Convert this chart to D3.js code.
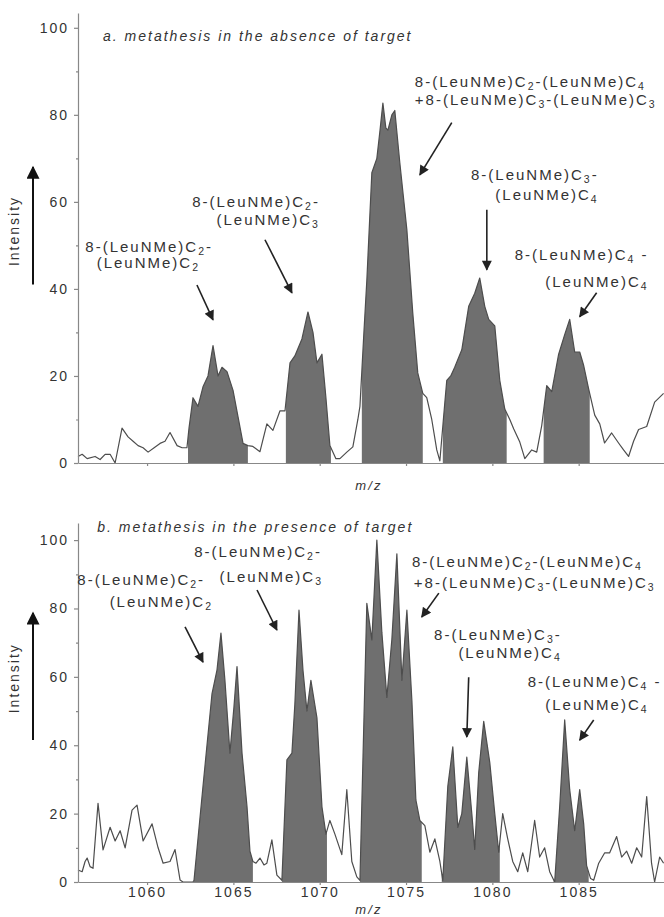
<!DOCTYPE html>
<html lang="en">
<head>
<meta charset="UTF-8">
<title>Metathesis MS</title>
<script src="https://d3js.org/d3.v7.min.js"></script>
<style>
    body { margin: 0; padding: 0; background: #fff; }
    svg text { font-family: "Liberation Sans", Arial, sans-serif; fill: #333; }
</style>
</head>
<body>
<div id="main"></div>
<script>
    // panel a: metathesis without target (m/z, intensity)
    var mzA = [
        1056.00, 1056.24, 1056.53, 1056.99, 1057.28, 1057.57, 1057.86, 1058.15, 1058.55, 1058.90,
        1059.19, 1059.48, 1059.77, 1060.06, 1060.41, 1060.75, 1061.04, 1061.33, 1061.74, 1062.03,
        1062.31, 1062.43, 1062.66, 1062.95, 1063.24, 1063.53, 1063.82, 1064.11, 1064.34, 1064.63,
        1064.98, 1065.27, 1065.56, 1065.84, 1066.13, 1066.54, 1066.94, 1067.29, 1067.70, 1067.99,
        1068.28, 1068.56, 1068.97, 1069.32, 1069.61, 1069.84, 1070.13, 1070.36, 1070.59, 1070.94,
        1071.17, 1071.57, 1071.92, 1072.21, 1072.33, 1072.56, 1072.73, 1073.02, 1073.31, 1073.48,
        1073.66, 1073.83, 1073.95, 1074.18, 1074.35, 1074.64, 1075.05, 1075.39, 1075.68, 1075.97,
        1076.20, 1076.49, 1076.78, 1076.96, 1077.25, 1077.36, 1077.59, 1077.82, 1078.23, 1078.63,
        1078.98, 1079.27, 1079.56, 1079.79, 1080.14, 1080.43, 1080.72, 1081.01, 1081.24, 1081.59,
        1081.88, 1082.28, 1082.57, 1082.86, 1083.15, 1083.44, 1083.84, 1084.19, 1084.48, 1084.77,
        1085.06, 1085.29, 1085.58, 1085.93, 1086.22, 1086.50, 1086.91, 1087.31, 1087.60, 1087.89,
        1088.18, 1088.47, 1088.94, 1089.40, 1089.92
    ];
    var intA = [
        1.5, 2, 1, 1.5, 0.8, 2, 2, 0, 8, 6,
        5, 4, 3.5, 2.5, 3.5, 4.5, 5, 7, 4, 3.5,
        3.5, 8, 15, 13, 17.5, 20, 27, 20, 22, 21,
        16.7, 10.6, 4.5, 4, 3.8, 2.6, 9, 7.5, 12, 12,
        23, 24.6, 28.5, 34.7, 30, 23, 25, 15, 4, 1,
        1, 2.5, 3.7, 10, 13, 30, 42, 66.7, 70, 76,
        82.7, 77, 76.5, 80, 81, 69, 53.5, 34.5, 20.7, 16,
        15, 10, 3, 0.5, 14, 19, 20, 22, 26, 36,
        39, 42.5, 36, 33, 31.5, 19, 12.4, 10, 7.8, 4.8,
        1, 3, 2.5, 8.6, 17.8, 16.4, 25, 29.5, 33, 25.5,
        25.5, 22.4, 17, 11, 9, 4.6, 6.9, 4.6, 3, 1.5,
        5, 7.7, 8.4, 14, 16
    ];
    var shadeA = [[1062.37, 1065.84], [1068.04, 1070.65], [1072.44, 1075.97], [1077.13, 1080.83], [1082.97, 1085.64]];

    // panel b: metathesis with target
    var mzB = [
        1056.00, 1056.24, 1056.41, 1056.53, 1056.70, 1056.87, 1057.16, 1057.45, 1057.86, 1058.15,
        1058.44, 1058.73, 1059.13, 1059.42, 1059.77, 1060.29, 1060.64, 1060.93, 1061.33, 1061.62,
        1061.91, 1062.08, 1062.66, 1062.72, 1063.24, 1063.76, 1064.05, 1064.28, 1064.51, 1064.80,
        1065.03, 1065.21, 1065.50, 1065.79, 1065.96, 1066.13, 1066.31, 1066.54, 1066.77, 1066.94,
        1067.23, 1067.52, 1067.81, 1068.10, 1068.39, 1068.56, 1068.80, 1069.03, 1069.26, 1069.49,
        1069.84, 1070.13, 1070.36, 1070.59, 1070.88, 1071.28, 1071.57, 1071.86, 1072.15, 1072.33,
        1072.73, 1073.02, 1073.31, 1073.60, 1073.89, 1074.18, 1074.47, 1074.76, 1075.05, 1075.34,
        1075.57, 1075.80, 1076.09, 1076.38, 1076.67, 1076.96, 1077.13, 1077.42, 1077.71, 1078.00,
        1078.23, 1078.52, 1078.81, 1078.98, 1079.21, 1079.50, 1079.85, 1080.14, 1080.37, 1080.60,
        1080.89, 1081.18, 1081.47, 1081.76, 1082.05, 1082.45, 1082.74, 1083.03, 1083.32, 1083.61,
        1083.90, 1084.19, 1084.48, 1084.77, 1085.06, 1085.29, 1085.46, 1085.69, 1085.87, 1086.16,
        1086.50, 1086.79, 1087.20, 1087.49, 1087.78, 1088.07, 1088.36, 1088.65, 1088.94, 1089.22,
        1089.40, 1089.69, 1089.92
    ];
    var intB = [
        3.5, 3, 6, 7, 4.5, 4, 23, 9.4, 16, 12,
        15, 10, 21, 22.5, 12, 17, 10, 5.5, 6, 9.5,
        0.6, 0, 0, 0.5, 28, 55, 62, 72.8, 59, 37.7,
        51, 63, 37.7, 22, 9, 6, 5.5, 7, 5, 5.5,
        12.3, 2, 0.5, 35.7, 37.7, 52, 79.5, 62, 50, 59,
        48, 22, 14, 18, 14, 8, 27, 6, 1.5, 0.5,
        81.5, 70.8, 100, 73, 54, 71, 96, 59, 79.5, 53,
        24, 18, 16.5, 8.7, 12.6, 6, 0.5, 28, 39.5, 16,
        20, 36.5, 20, 9.5, 32, 47, 35, 20, 8.7, 20,
        12.6, 6, 3, 8.5, 3, 18, 7.3, 10, 3, 0,
        22, 47.4, 27, 15, 27, 17, 4.8, 1, 0.5, 5.5,
        8.5, 8.5, 13.3, 7.3, 9, 5.5, 10, 7.3, 25, 5.5,
        0, 7.3, 5.5
    ];
    var shadeB = [[1062.72, 1066.13], [1067.81, 1070.42], [1072.33, 1075.91], [1077.07, 1080.43], [1083.55, 1085.58]];

    var yTicks = [0, 20, 40, 60, 80, 100];
    var yMinor = [10, 30, 50, 70, 90];
    var xTicks = [1060, 1065, 1070, 1075, 1080, 1085];

    var titleA = "a. metathesis in the absence of target";
    var titleB = "b. metathesis in the presence of target";

    // peak labels, "_n" = subscript; anchors in data units (m/z, intensity)
    var notesA = [
        { lines: ["8-(LeuNMe)C_2-", "(LeuNMe)C_2"], anchor: "end", at: [[1063.82, 48.5], [1063.07, 44.8]], arrow: [[1062.89, 40.9], [1063.82, 32.9]] },
        { lines: ["8-(LeuNMe)C_2-", "(LeuNMe)C_3"], anchor: "end", at: [[1070.01, 58.9], [1070.01, 54.7]], arrow: [[1066.83, 51.3], [1068.39, 39.1]] },
        { lines: ["8-(LeuNMe)C_2-(LeuNMe)C_4", "+8-(LeuNMe)C_3-(LeuNMe)C_3"], anchor: "start", at: [[1075.51, 86.4], [1075.51, 82.3]], arrow: [[1077.65, 78.2], [1075.80, 66.2]] },
        { lines: ["8-(LeuNMe)C_3-", "(LeuNMe)C_4"], anchor: "end", at: [[1086.16, 65.1], [1086.16, 60.5]], arrow: [[1079.68, 58.2], [1079.68, 44.4]] },
        { lines: ["8-(LeuNMe)C_4 -", "(LeuNMe)C_4"], anchor: "end", at: [[1089.05, 46.7], [1089.05, 40.5]], arrow: [[1086.04, 39.1], [1085.06, 33.6]] }
    ];
    var notesB = [
        { lines: ["8-(LeuNMe)C_2-", "(LeuNMe)C_2"], anchor: "end", at: [[1063.36, 86.8], [1063.82, 80.4]], arrow: [[1062.20, 74.6], [1063.24, 64.3]] },
        { lines: ["8-(LeuNMe)C_2-", "(LeuNMe)C_3"], anchor: "end", at: [[1070.13, 95.0], [1070.19, 87.7]], arrow: [[1066.37, 85.4], [1067.52, 73.7]] },
        { lines: ["8-(LeuNMe)C_2-(LeuNMe)C_4", "+8-(LeuNMe)C_3-(LeuNMe)C_3"], anchor: "start", at: [[1075.34, 92.1], [1075.45, 86.0]], arrow: [[1076.90, 84.5], [1075.91, 77.5]] },
        { lines: ["8-(LeuNMe)C_3-", "(LeuNMe)C_4"], anchor: "end", at: [[1084.02, 70.8], [1084.02, 65.5]], arrow: [[1078.63, 59.9], [1078.52, 42.4]] },
        { lines: ["8-(LeuNMe)C_4 -", "(LeuNMe)C_4"], anchor: "end", at: [[1089.80, 57.0], [1089.05, 50.3]], arrow: [[1085.87, 47.4], [1085.06, 41.5]] }
    ];

    var width = 664, height = 917;

    var svg = d3.select("#main").append("svg")
        .attr("width", width)
        .attr("height", height);

    svg.append("rect").attr("width", width).attr("height", height).attr("fill", "#fff");

    var defs = svg.append("defs");
    defs.append("marker")
        .attr("id", "head")
        .attr("viewBox", "0 0 10 10")
        .attr("refX", 9).attr("refY", 5)
        .attr("markerUnits", "userSpaceOnUse")
        .attr("markerWidth", 11).attr("markerHeight", 10)
        .attr("orient", "auto")
        .append("path").attr("d", "M0,0 L10,5 L0,10 Z").attr("fill", "#222");
    defs.append("marker")
        .attr("id", "bighead")
        .attr("viewBox", "0 0 10 10")
        .attr("refX", 9).attr("refY", 5)
        .attr("markerUnits", "userSpaceOnUse")
        .attr("markerWidth", 14).attr("markerHeight", 13)
        .attr("orient", "auto")
        .append("path").attr("d", "M0,0 L10,5 L0,10 Z").attr("fill", "#111");

    var x = d3.scaleLinear().domain([1056, 1090]).range([78, 665]);

    // write a label with _n subscripts as tspans
    function richText(t, str) {
        var low = false;
        str.split(/_(\d)/).forEach(function(part, i) {
            if (part === "") return;
            if (i % 2 == 1) {
                t.append("tspan").attr("dy", 3).attr("font-size", 10.5).text(part);
                low = true;
            } else {
                t.append("tspan").attr("dy", low ? -3 : 0).text(part);
                low = false;
            }
        });
    }

    function drawPanel(p) {
        var y = d3.scaleLinear().domain([0, p.yMax]).range([p.y0, p.yTop]);
        var g = svg.append("g");
        var pts = p.mz.map(function(m, i) { return [m, p.ints[i]]; });

        var clip = defs.append("clipPath").attr("id", "clip" + p.id);
        clip.selectAll("rect")
            .data(p.shade)
            .enter()
            .append("rect")
            .attr("x", function(d) { return x(d[0]); })
            .attr("width", function(d) { return x(d[1]) - x(d[0]); })
            .attr("y", p.yTop)
            .attr("height", p.y0 - p.yTop);

        g.append("path")
            .datum(pts)
            .attr("clip-path", "url(#clip" + p.id + ")")
            .attr("d", d3.area().x(function(d) { return x(d[0]); }).y0(y(0)).y1(function(d) { return y(d[1]); }))
            .attr("fill", "#6f6f6f");

        g.append("path")
            .datum(pts)
            .attr("d", d3.line().x(function(d) { return x(d[0]); }).y(function(d) { return y(d[1]); }))
            .attr("fill", "none")
            .attr("stroke", "#4d4d4d")
            .attr("stroke-width", 1.2)
            .attr("stroke-linejoin", "round");

        // axes
        var ya = g.append("g")
            .attr("transform", "translate(" + x(1056) + ",0)")
            .call(d3.axisLeft(y).tickValues(yTicks).tickSize(4).tickSizeOuter(0).tickPadding(5));
        ya.append("g").call(d3.axisLeft(y).tickValues(yMinor).tickSize(2).tickFormat(""))
            .select(".domain").remove();

        var xa = g.append("g")
            .attr("transform", "translate(0," + p.y0 + ")")
            .call(d3.axisBottom(x).tickValues(xTicks).tickSize(3).tickSizeOuter(0).tickPadding(2)
                .tickFormat(p.xLabels ? d3.format("d") : ""));

        [ya, xa].forEach(function(a) {
            a.selectAll(".domain, line").attr("stroke", "#888").attr("stroke-width", 1.2);
            a.selectAll("text").attr("font-size", 14).attr("letter-spacing", 2)
                .attr("fill", "#3a3a3a").attr("font-family", "Liberation Sans, Arial, sans-serif");
        });

        g.append("text")
            .attr("x", 369)
            .attr("y", p.mzY)
            .attr("text-anchor", "middle")
            .attr("font-style", "italic")
            .attr("font-size", 13)
            .attr("letter-spacing", 2.2)
            .text("m/z");

        // y title with arrow
        g.append("text")
            .attr("transform", "translate(19," + y(p.titleAt) + ") rotate(-90)")
            .attr("text-anchor", "middle")
            .attr("font-size", 14)
            .attr("letter-spacing", 2)
            .text("Intensity");
        g.append("line")
            .attr("x1", 33).attr("x2", 33)
            .attr("y1", y(p.arrowFrom)).attr("y2", y(p.arrowTo))
            .attr("stroke", "#111").attr("stroke-width", 2)
            .attr("marker-end", "url(#bighead)");

        g.append("text")
            .attr("x", x(p.title[1][0]))
            .attr("y", y(p.title[1][1]))
            .attr("font-style", "italic")
            .attr("font-size", 14)
            .attr("letter-spacing", 2)
            .text(p.title[0]);

        p.notes.forEach(function(n) {
            n.lines.forEach(function(line, i) {
                var t = g.append("text")
                    .attr("x", x(n.at[i][0]))
                    .attr("y", y(n.at[i][1]))
                    .attr("text-anchor", n.anchor)
                    .attr("font-size", 15)
                    .attr("letter-spacing", 2);
                richText(t, line);
            });
            g.append("line")
                .attr("x1", x(n.arrow[0][0])).attr("y1", y(n.arrow[0][1]))
                .attr("x2", x(n.arrow[1][0])).attr("y2", y(n.arrow[1][1]))
                .attr("stroke", "#222").attr("stroke-width", 1.6)
                .attr("marker-end", "url(#head)");
        });
    }

    drawPanel({ id: "a", mz: mzA, ints: intA, shade: shadeA, notes: notesA,
        title: [titleA, [1057.45, 97.0]], y0: 463, yTop: 13, yMax: 103.4,
        xLabels: false, mzY: 490, titleAt: 53.3, arrowFrom: 41, arrowTo: 68 });
    drawPanel({ id: "b", mz: mzB, ints: intB, shade: shadeB, notes: notesB,
        title: [titleB, [1057.11, 102.3]], y0: 882, yTop: 523, yMax: 105,
        xLabels: true, mzY: 914, titleAt: 59.6, arrowFrom: 41.5, arrowTo: 78.7 });
</script>
</body>
</html>
